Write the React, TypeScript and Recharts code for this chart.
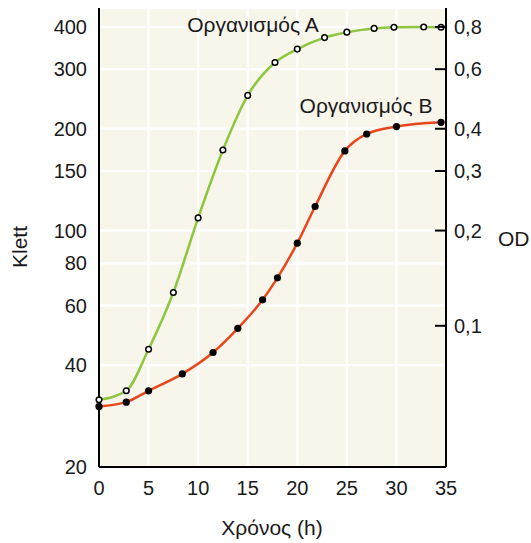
import React from 'react';
import { LineChart, Line, XAxis, YAxis, CartesianGrid } from 'recharts';

const timeA = [0, 2.75, 5, 7.5, 10, 12.5, 15, 17.75, 20, 22.75, 25, 27.75, 29.75, 32.75, 34.5];
const klettA = [31.6, 33.6, 44.6, 65.6, 109, 173, 251, 314, 344, 372, 386, 396, 399, 400, 399];

const timeB = [0, 2.75, 5, 8.4, 11.5, 14, 16.5, 18, 20, 21.8, 24.8, 27, 30, 34.5];
const klettB = [30.2, 31.1, 33.6, 37.7, 43.6, 51.4, 62.4, 72.5, 91.8, 117.8, 172, 193, 203, 209];

const xTicks = [0, 5, 10, 15, 20, 25, 30, 35];
const klettTicks = [20, 40, 60, 80, 100, 150, 200, 300, 400];
const odLabels = ['0,8', '0,6', '0,4', '0,3', '0,2', '0,1'];
const odAtKlett = [400, 300, 200, 150, 100, 52.3];

const dataA = timeA.map((t, i) => ({ t, v: klettA[i] }));
const dataB = timeB.map((t, i) => ({ t, v: klettB[i] }));

const FONT = '"Liberation Sans", Arial, Helvetica, sans-serif';
const TICK_SIZE = 20;

const RightTick = (props: any) => {
  const { x, y, payload } = props;
  const idx = odAtKlett.indexOf(payload.value);
  const label = idx >= 0 ? odLabels[idx] : '';
  return (
    <g>
      <line x1={x - 11} x2={x} y1={y} y2={y} stroke="#000" strokeWidth={2} />
      <text x={x + 8} y={y} dy="0.355em" textAnchor="start" fontSize={TICK_SIZE} fontFamily={FONT} fill="#1a1a1a">
        {label}
      </text>
    </g>
  );
};

const GreenDot = (props: any) => {
  const { cx, cy } = props;
  return <circle cx={cx} cy={cy} r={2.8} fill="#fff" stroke="#000" strokeWidth={1.5} />;
};

const BlackDot = (props: any) => {
  const { cx, cy } = props;
  return <circle cx={cx} cy={cy} r={3.6} fill="#000" stroke="none" />;
};

export default function App() {
  return (
    <div style={{ position: 'absolute', left: 0, top: 0, background: '#fff' }}>
      <LineChart width={531} height={543} margin={{ top: 8, right: 0, bottom: 0, left: 0 }}>
        <CartesianGrid
          xAxisId="x"
          yAxisId="left"
          fill="#F8F5EA"
          stroke="#ffffff"
          strokeWidth={2.5}
          strokeDasharray=""
          verticalPoints={undefined}
        />
        <XAxis
          xAxisId="x"
          dataKey="t"
          type="number"
          domain={[0, 35]}
          ticks={xTicks}
          allowDuplicatedCategory={false}
          height={76}
          tickSize={0}
          tickMargin={14}
          tickLine={false}
          axisLine={{ stroke: '#000', strokeWidth: 2 }}
          tick={{ fontSize: TICK_SIZE, fontFamily: FONT, fill: '#1a1a1a' }}
        />
        <YAxis
          yAxisId="left"
          type="number"
          scale="log"
          domain={[20, 455]}
          allowDataOverflow
          ticks={klettTicks}
          interval={0}
          width={99}
          tickSize={0}
          tickMargin={12}
          tickLine={false}
          axisLine={{ stroke: '#000', strokeWidth: 2 }}
          tick={{ fontSize: TICK_SIZE, fontFamily: FONT, fill: '#1a1a1a' }}
        />
        <YAxis
          yAxisId="right"
          orientation="right"
          type="number"
          scale="log"
          domain={[20, 455]}
          allowDataOverflow
          ticks={odAtKlett}
          interval={0}
          width={85}
          tickSize={0}
          tickMargin={0}
          tickLine={false}
          axisLine={{ stroke: '#000', strokeWidth: 2 }}
          tick={<RightTick />}
        />
        <Line
          xAxisId="x"
          yAxisId="left"
          data={dataA}
          dataKey="v"
          type="monotone"
          stroke="#8DC63F"
          strokeWidth={2.5}
          dot={<GreenDot />}
          activeDot={false}
          isAnimationActive={false}
        />
        <Line
          xAxisId="x"
          yAxisId="left"
          data={dataB}
          dataKey="v"
          type="monotone"
          stroke="#E8471C"
          strokeWidth={2.5}
          dot={<BlackDot />}
          activeDot={false}
          isAnimationActive={false}
        />
        <text x={253} y={32} textAnchor="middle" fontSize={21} fontFamily={FONT} fill="#1a1a1a">
          Οργανισμός Α
        </text>
        <text x={366} y={113} textAnchor="middle" fontSize={21} fontFamily={FONT} fill="#1a1a1a">
          Οργανισμός Β
        </text>
        <text x={272} y={535} textAnchor="middle" fontSize={21} fontFamily={FONT} fill="#1a1a1a">
          Χρόνος (h)
        </text>
        <text x={27} y={247} textAnchor="middle" fontSize={21} fontFamily={FONT} fill="#1a1a1a" transform="rotate(-90, 27, 247)">
          Klett
        </text>
        <text x={498} y={246} textAnchor="start" fontSize={21} fontFamily={FONT} fill="#1a1a1a">
          OD
        </text>
      </LineChart>
    </div>
  );
}
